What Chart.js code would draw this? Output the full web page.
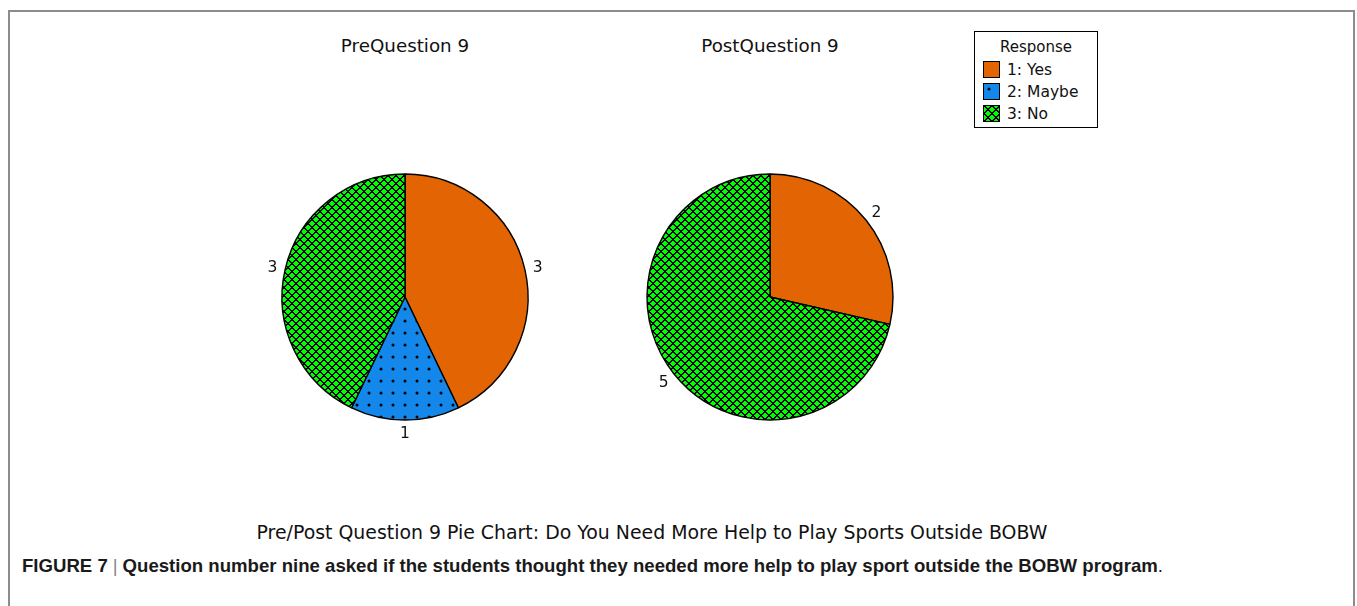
<!DOCTYPE html>
<html><head><meta charset="utf-8">
<script src="https://cdn.jsdelivr.net/npm/chart.js@4/dist/chart.umd.min.js"></script>
<style>
body{margin:0;background:#fff;width:1357px;height:606px;position:relative;overflow:hidden;font-family:"DejaVu Sans",sans-serif;color:#111}
.frame{position:absolute;left:8px;top:10px;width:1347px;height:620px;border:2px solid #8c8c8c;border-bottom:none;box-sizing:border-box}
.t{position:absolute;white-space:nowrap;transform:translate(-50%,-50%);line-height:1}
canvas.pie{position:absolute}
.legend{position:absolute;left:974px;top:31px;width:124px;height:97px;border:1px solid #000;box-sizing:border-box;font-size:15.5px}
.legend .hd{position:absolute;left:0;width:100%;top:6px;text-align:center;font-size:15px;line-height:18px}
.legend .it{position:absolute;left:8px;height:18px;line-height:18px}
.legend .it canvas{position:absolute;left:0;top:0}
.legend .it span{position:absolute;left:24px;top:0;white-space:nowrap}
.caption{position:absolute;left:22px;top:556px;line-height:20px;font-family:"Liberation Sans",Arial,sans-serif;font-weight:bold;font-size:18.6px;white-space:nowrap;color:#1a1a1a}
.caption .bar{font-weight:normal;color:#888;margin:0 5px}
.caption .dot{font-weight:normal}
</style></head>
<body>
<div class="frame"></div>
<script>
const categories = ['1: Yes', '2: Maybe', '3: No'];
const preValues = [3, 1, 3];
const postValues = [2, 0, 5];
const chartTitles = ['PreQuestion 9', 'PostQuestion 9'];
const legendTitle = 'Response';
const mainTitle = 'Pre/Post Question 9 Pie Chart: Do You Need More Help to Play Sports Outside BOBW';
const captionLead = 'FIGURE 7';
const captionText = 'Question number nine asked if the students thought they needed more help to play sport outside the BOBW program';
</script>
<script>
function solid(c){return c;}
function dotPattern(bg){
  const s=12,c=document.createElement('canvas');c.width=c.height=s;
  const x=c.getContext('2d');x.fillStyle=bg;x.fillRect(0,0,s,s);
  x.fillStyle='#000';x.beginPath();x.arc(6,6,1.5,0,Math.PI*2);x.fill();
  return x.createPattern(c,'repeat');
}
function crossPattern(bg){
  const s=8,c=document.createElement('canvas');c.width=c.height=s;
  const x=c.getContext('2d');x.fillStyle=bg;x.fillRect(0,0,s,s);
  x.fillStyle='#000';
  for(let i=0;i<s;i++)for(let j=0;j<s;j++){
    const a=(i+j)%s,b=((i-j)%s+s)%s;
    if(a<2||b<2)x.fillRect(i,j,1,1);
  }
  return x.createPattern(c,'repeat');
}
const fills=[solid('#e36402'),dotPattern('#1388ea'),crossPattern('#00ff00')];

function addText(txt,cx,cy,size){
  const d=document.createElement('div');d.className='t';d.textContent=txt;
  d.style.left=cx+'px';d.style.top=cy+'px';d.style.fontSize=size+'px';
  document.body.appendChild(d);return d;
}
addText(chartTitles[0],405,46,18.3);
addText(chartTitles[1],770,46,18.3);
addText(mainTitle,652,532,18.9);

// legend
const lg=document.createElement('div');lg.className='legend';
const hd=document.createElement('div');hd.className='hd';hd.textContent=legendTitle;lg.appendChild(hd);
categories.forEach((cat,i)=>{
  const it=document.createElement('div');it.className='it';it.style.top=(29+i*22)+'px';
  const cv=document.createElement('canvas');cv.width=17;cv.height=17;
  const g=cv.getContext('2d');g.fillStyle=fills[i];g.fillRect(0,0,17,17);
  g.strokeStyle='#000';g.lineWidth=1;g.strokeRect(0.5,0.5,16,16);
  it.appendChild(cv);
  const sp=document.createElement('span');sp.textContent=cat;it.appendChild(sp);
  lg.appendChild(it);
});
document.body.appendChild(lg);

// caption
const cap=document.createElement('div');cap.className='caption';
cap.appendChild(document.createTextNode(captionLead));
const b=document.createElement('span');b.className='bar';b.textContent='|';cap.appendChild(b);
cap.appendChild(document.createTextNode(captionText));
const dt=document.createElement('span');dt.className='dot';dt.textContent='.';cap.appendChild(dt);
document.body.appendChild(cap);

const labelPlugin={id:'sliceLabels',afterDatasetsDraw(chart){
  const ctx=chart.ctx,meta=chart.getDatasetMeta(0),data=chart.data.datasets[0].data;
  ctx.save();ctx.font='15.5px "DejaVu Sans"';ctx.fillStyle='#111';ctx.textAlign='center';ctx.textBaseline='middle';
  meta.data.forEach((arc,i)=>{
    if(!data[i])return;
    const p=arc.getProps(['x','y','startAngle','endAngle','outerRadius'],true);
    const a=(p.startAngle+p.endAngle)/2,r=p.outerRadius+13;
    ctx.fillText(String(data[i]),p.x+Math.cos(a)*r,p.y+Math.sin(a)*r+1);
  });
  ctx.restore();
}};

function makePie(values,cx,cy){
  const size=300;
  const cv=document.createElement('canvas');cv.className='pie';cv.width=size;cv.height=size;
  cv.style.left=(cx-size/2)+'px';cv.style.top=(cy-size/2)+'px';
  cv.style.width=size+'px';cv.style.height=size+'px';
  document.body.appendChild(cv);
  new Chart(cv,{type:'pie',
    data:{labels:categories,datasets:[{data:values,backgroundColor:fills,borderColor:'#000',borderWidth:1.4,radius:123}]},
    options:{responsive:false,animation:false,devicePixelRatio:1,
      plugins:{legend:{display:false},tooltip:{enabled:false}},
      layout:{padding:0}},
    plugins:[labelPlugin]});
}
makePie(preValues,405,297);
makePie(postValues,770,297);
</script>
</body></html>
